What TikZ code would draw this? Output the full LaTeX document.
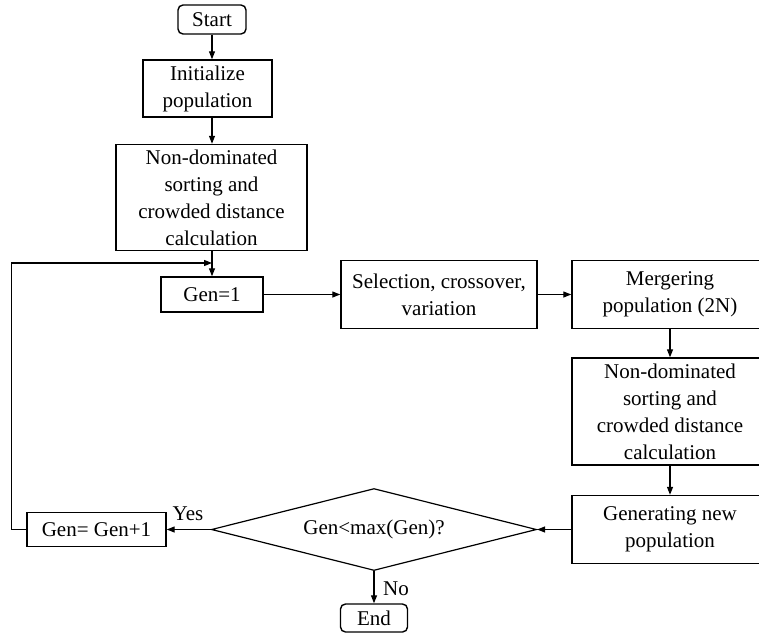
\documentclass[tikz,border=0pt]{standalone}
\usepackage{fontspec}
\setmainfont{Liberation Serif}
\usetikzlibrary{shapes.geometric,arrows.meta}

\begin{document}
\begin{tikzpicture}[x=1pt,y=-1pt,
					font=\fontsize{21}{27}\selectfont,
					procbox/.style={draw,line width=1.4pt,align=center,inner sep=0pt},
					termbox/.style={procbox,rounded corners=5pt},
					decide/.style={diamond,draw,line width=1.2pt,aspect=4,inner sep=0pt},
					arr/.style={line width=1.2pt,-{Triangle[length=8pt,width=6pt]}}]
					\useasboundingbox (0,0) rectangle (759,637);
					\node[termbox,minimum width=68,minimum height=29] (start) at (212,19.5) {Start};
					\node[procbox,minimum width=129,minimum height=57] (init) at (207.5,88.5) {Initialize\\population};
					\node[procbox,minimum width=191,minimum height=106] (sort1) at (211.5,197.5) {Non-dominated\\sorting and\\crowded distance\\calculation};
					\node[procbox,minimum width=102,minimum height=35] (gen1) at (212,294.5) {Gen=1};
					\node[procbox,minimum width=196,minimum height=68] (select) at (439,294.5) {Selection, crossover,\\variation};
					\node[procbox,minimum width=196,minimum height=68] (merge) at (670,294.5) {Mergering\\population (2N)};
					\node[procbox,minimum width=196,minimum height=107] (sort2) at (670,411.5) {Non-dominated\\sorting and\\crowded distance\\calculation};
					\node[procbox,minimum width=196,minimum height=68] (newpop) at (670,529.5) {Generating new\\population};
					\node[decide,minimum width=325,minimum height=82] (check) at (374,529.5) {Gen<max(Gen)?};
					\node[procbox,minimum width=139,minimum height=34] (genup) at (96.5,529.5) {Gen= Gen+1};
					\node[termbox,minimum width=67,minimum height=28] (stop) at (374,618) {End};
					\node (yes) at (188,514) {Yes};
					\node (no) at (396,589) {No};
					\coordinate (loopin) at (212,263);
					\draw[arr] (start) -- (start |- init.north);
					\draw[arr] (init.south -| gen1) -- (sort1.north -| gen1);
					\draw[arr] (sort1.south -| gen1) -- (gen1);
					\draw[arr] (gen1) -- (select);
					\draw[arr] (select) -- (merge);
					\draw[arr] (merge) -- (sort2);
					\draw[arr] (sort2) -- (newpop);
					\draw[arr] (newpop) -- (check);
					\draw[arr] (check) -- (genup);
					\draw[arr] (check) -- (stop);
					\draw[arr] (genup.west) -- ++(-15,0) |- (loopin);
				\end{tikzpicture}
\end{document}
